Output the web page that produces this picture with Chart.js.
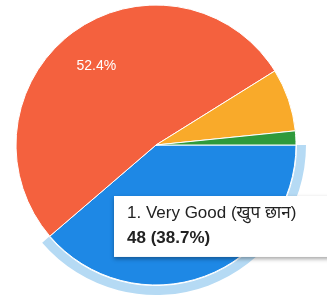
<!DOCTYPE html>
<html>
<head>
<meta charset="utf-8">
<script src="https://cdn.jsdelivr.net/npm/chart.js@4.4.0/dist/chart.umd.min.js"></script>
<style>
    html, body { margin: 0; padding: 0; background: #fff; overflow: hidden; }
    body { width: 327px; height: 301px; position: relative; }
    #wrap { position: absolute; left: 0; top: -15px; width: 380px; height: 320px; }
</style>
</head>
<body>
<div id="wrap"><canvas id="pie-chart"></canvas></div>
<script>
// Data
const labels = ['1. Very Good (खुप छान)', '2. Good (छान)', '3. Average (सरासरी)', '4. Poor (वाईट)'];
const counts = [48, 65, 9, 2];
const colors = ['#1e88e5', '#f4613e', '#f9aa2a', '#2f9a3c'];
const haloColor = '#b5daf4';
const hovered = 0; // slice with the tooltip

const total = counts.reduce((a, b) => a + b, 0);
const pct = v => (v / total * 100).toFixed(1) + '%';
const fontFamily = '"Liberation Sans", Arial, "Noto Sans", sans-serif';

// Position the tooltip box where the reference has it
Chart.Tooltip.positioners.fixedBox = function() {
    return { x: 114, y: 211 };
};

// Percent labels inside big slices
const sliceLabels = {
    id: 'sliceLabels',
    afterDatasetsDraw(chart) {
        const meta = chart.getDatasetMeta(2);
        const ctx = chart.ctx;
        ctx.save();
        ctx.fillStyle = '#ffffff';
        ctx.font = '14px ' + fontFamily;
        ctx.textAlign = 'center';
        ctx.textBaseline = 'middle';
        meta.data.forEach((arc, i) => {
            if (counts[i] / total < 0.2) return;
            const p = arc.getProps(['x', 'y', 'startAngle', 'endAngle', 'outerRadius'], true);
            const mid = (p.startAngle + p.endAngle) / 2;
            ctx.fillText(pct(counts[i]), p.x + Math.cos(mid) * p.outerRadius * 0.72, p.y + Math.sin(mid) * p.outerRadius * 0.7);
        });
        ctx.restore();
    }
};

// Soft shadow behind the tooltip box
const tooltipShadow = {
    id: 'tooltipShadow',
    beforeTooltipDraw(chart, args) {
        const t = args.tooltip;
        if (!t.opacity) return;
        const ctx = chart.ctx;
        ctx.save();
        ctx.shadowColor = 'rgba(0,0,0,0.35)';
        ctx.shadowBlur = 4;
        ctx.shadowOffsetY = 2;
        ctx.fillStyle = '#ffffff';
        ctx.fillRect(t.x, t.y, t.width, t.height);
        ctx.restore();
    }
};

const ctx = document.getElementById('pie-chart').getContext('2d');
const pieChart = new Chart(ctx, {
    type: 'pie',
    data: {
        labels: labels,
        datasets: [{
            // hover halo ring
            data: counts,
            backgroundColor: counts.map((v, i) => i === hovered ? haloColor : 'rgba(0,0,0,0)'),
            borderWidth: 0,
            weight: 9
        }, {
            // thin gap between halo and pie
            data: counts,
            backgroundColor: 'rgba(0,0,0,0)',
            borderWidth: 0,
            weight: 1
        }, {
            data: counts,
            backgroundColor: colors,
            borderColor: '#ffffff',
            borderWidth: 1,
            weight: 140
        }]
    },
    plugins: [sliceLabels, tooltipShadow],
    options: {
        responsive: true,
        maintainAspectRatio: false,
        animation: false,
        events: [],
        rotation: 90,
        layout: { padding: { left: 6, right: 74, top: 10, bottom: 10 } },
        plugins: {
            legend: { display: false },
            tooltip: {
                position: 'fixedBox',
                xAlign: 'left',
                yAlign: 'top',
                caretSize: 0,
                caretPadding: 0,
                cornerRadius: 0,
                displayColors: false,
                backgroundColor: '#ffffff',
                titleColor: '#222222',
                bodyColor: '#222222',
                titleFont: { family: fontFamily, size: 17, weight: 'normal' },
                bodyFont: { family: fontFamily, size: 17, weight: 'bold' },
                titleMarginBottom: 5,
                padding: { top: 7, bottom: 8, left: 13, right: 50 },
                callbacks: {
                    title: items => labels[items[0].dataIndex],
                    label: item => counts[item.dataIndex] + ' (' + pct(counts[item.dataIndex]) + ')'
                }
            }
        }
    }
});

pieChart.tooltip.setActiveElements([{ datasetIndex: 2, index: hovered }], { x: 0, y: 0 });
pieChart.update();
</script>
</body>
</html>
